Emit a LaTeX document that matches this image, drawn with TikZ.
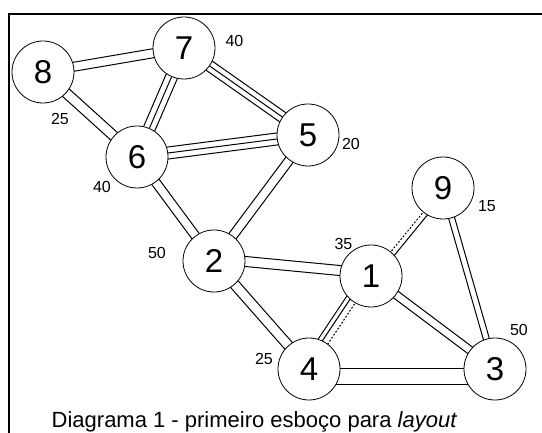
\documentclass[tikz,border=0pt]{standalone}
\usepackage{fontspec}
\setmainfont{Liberation Sans}
\usetikzlibrary{calc,backgrounds}
\tikzset{
  vtx/.style={circle,draw,line width=0.8pt,fill=white,minimum size=62pt,inner sep=0pt,font=\fontsize{33}{33}\selectfont},
  wlabel/.style={inner sep=0pt,font=\fontsize{16}{16}\selectfont},
  edgeline/.style={line width=1pt,black},
  dotline/.style={line width=1pt,dash pattern=on 1.8pt off 1.8pt},
  frameline/.style={line width=2.2pt}
}
% offset line between two nodes: positive = left of travel direction
\newcommand{\lnk}[4][]{\draw[edgeline,#1] ($(#2.center)!#4!90:(#3.center)$) -- ($(#3.center)!#4!-90:(#2.center)$);}
\begin{document}
\begin{tikzpicture}[x=1pt,y=-1pt]
\useasboundingbox (0,0) rectangle (542,433);
\draw[frameline] (8.7,440) -- (8.7,14) -- (545,14);

\node[vtx] (n1) at (371,276) {1};
\node[vtx] (n2) at (214,261) {2};
\node[vtx] (n3) at (495,369) {3};
\node[vtx] (n4) at (309,369) {4};
\node[vtx] (n5) at (308,135) {5};
\node[vtx] (n6) at (137,157) {6};
\node[vtx] (n7) at (184,48) {7};
\node[vtx] (n8) at (43,72) {8};
\node[vtx] (n9) at (443,188) {9};

\node[wlabel] (l7) at (234.5,41) {40};
\node[wlabel] (l8) at (60,119) {25};
\node[wlabel] (l6) at (102,187) {40};
\node[wlabel] (l5) at (351,144) {20};
\node[wlabel] (l9) at (487,206) {15};
\node[wlabel] (l1) at (343.5,244) {35};
\node[wlabel] (l3) at (519,330) {50};
\node[wlabel] (l4) at (264,359) {25};
\node[wlabel] (l2) at (157,253) {50};

\node[anchor=base west,inner sep=0pt,font=\fontsize{22}{22}\selectfont] (cap) at (51.5,427.5) {Diagrama 1 - primeiro esboço para \textit{layout}};

\begin{pgfonlayer}{background}
% double edges
\lnk{n8}{n7}{4.5pt}\lnk{n8}{n7}{-4.5pt}
\lnk{n8}{n6}{5pt}\lnk{n8}{n6}{-5pt}
\lnk{n6}{n2}{4.5pt}\lnk{n6}{n2}{-4.5pt}
\lnk{n5}{n2}{4.5pt}\lnk{n5}{n2}{-4.5pt}
\lnk{n2}{n4}{5pt}\lnk{n2}{n4}{-5pt}
\lnk{n2}{n1}{7.5pt}\lnk{n2}{n1}{-2.5pt}
\lnk{n1}{n3}{4pt}\lnk{n1}{n3}{-4pt}
\lnk{n9}{n3}{3pt}\lnk{n9}{n3}{-3pt}
\lnk{n4}{n3}{0pt}\lnk{n4}{n3}{-15.5pt}
% triple edges
\lnk{n7}{n6}{6pt}\lnk{n7}{n6}{0pt}\lnk{n7}{n6}{-6pt}
\lnk{n7}{n5}{5.5pt}\lnk{n7}{n5}{0pt}\lnk{n7}{n5}{-5.5pt}
\lnk{n6}{n5}{6pt}\lnk{n6}{n5}{0pt}\lnk{n6}{n5}{-6pt}
% mixed edges
\lnk[dotline]{n1}{n9}{0pt}\lnk{n1}{n9}{-5pt}
\lnk{n1}{n4}{-9pt}\lnk{n1}{n4}{-4.5pt}\lnk[dotline]{n1}{n4}{1.8pt}
\end{pgfonlayer}
\end{tikzpicture}
\end{document}
